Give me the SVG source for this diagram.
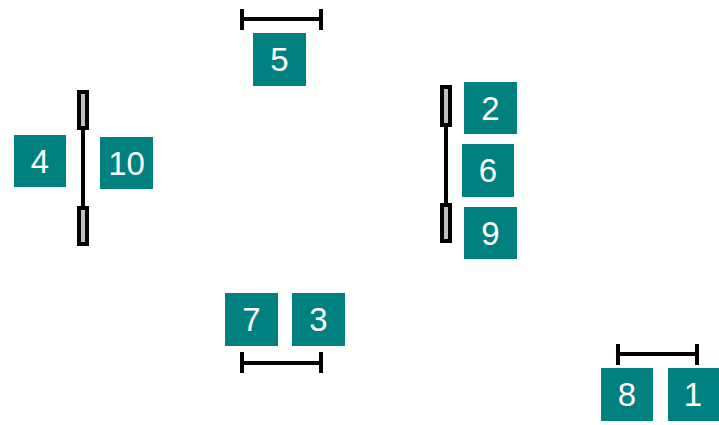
<svg xmlns="http://www.w3.org/2000/svg" width="719" height="425" viewBox="0 0 719 425">
<style>
.n rect{fill:#00807f}
.n text{fill:#ffffff;font-family:"Liberation Sans",Arial,sans-serif;font-size:33px;text-anchor:middle}
.c line{stroke:#000;stroke-width:4;fill:none}
.c rect{fill:#c0c0c0;stroke:#000;stroke-width:4}
</style>
<g class="c" id="connectors">
<line x1="242" y1="19" x2="321" y2="19"/><line x1="242" y1="9" x2="242" y2="30"/><line x1="321" y1="9" x2="321" y2="30"/>
<line x1="242" y1="363" x2="321" y2="363"/><line x1="242" y1="352" x2="242" y2="373"/><line x1="321" y1="352" x2="321" y2="373"/>
<line x1="618" y1="354" x2="697" y2="354"/><line x1="618" y1="344" x2="618" y2="365"/><line x1="697" y1="344" x2="697" y2="365"/>
<line x1="83" y1="128" x2="83" y2="208"/><rect x="79" y="92" width="8" height="36"/><rect x="79" y="208" width="8" height="36"/>
<line x1="446" y1="125" x2="446" y2="205"/><rect x="442" y="87" width="8" height="38"/><rect x="442" y="205" width="8" height="36"/>
</g>
<g class="n" id="n1"><rect x="668" y="368" width="51" height="53"/><text x="693" y="406">1</text></g>
<g class="n" id="n2"><rect x="464" y="82" width="53" height="52"/><text x="490.5" y="120">2</text></g>
<g class="n" id="n3"><rect x="292" y="293" width="53" height="53"/><text x="318.5" y="331">3</text></g>
<g class="n" id="n4"><rect x="14" y="135" width="52" height="52"/><text x="40" y="173">4</text></g>
<g class="n" id="n5"><rect x="253" y="33" width="53" height="53"/><text x="279.5" y="71">5</text></g>
<g class="n" id="n6"><rect x="462" y="144" width="52" height="53"/><text x="488" y="182">6</text></g>
<g class="n" id="n7"><rect x="225" y="293" width="53" height="53"/><text x="251.5" y="331">7</text></g>
<g class="n" id="n8"><rect x="601" y="368" width="52" height="53"/><text x="627" y="406">8</text></g>
<g class="n" id="n9"><rect x="464" y="207" width="53" height="52"/><text x="490.5" y="245">9</text></g>
<g class="n" id="n10"><rect x="100" y="137" width="53" height="52"/><text x="126.5" y="175">10</text></g>
</svg>
